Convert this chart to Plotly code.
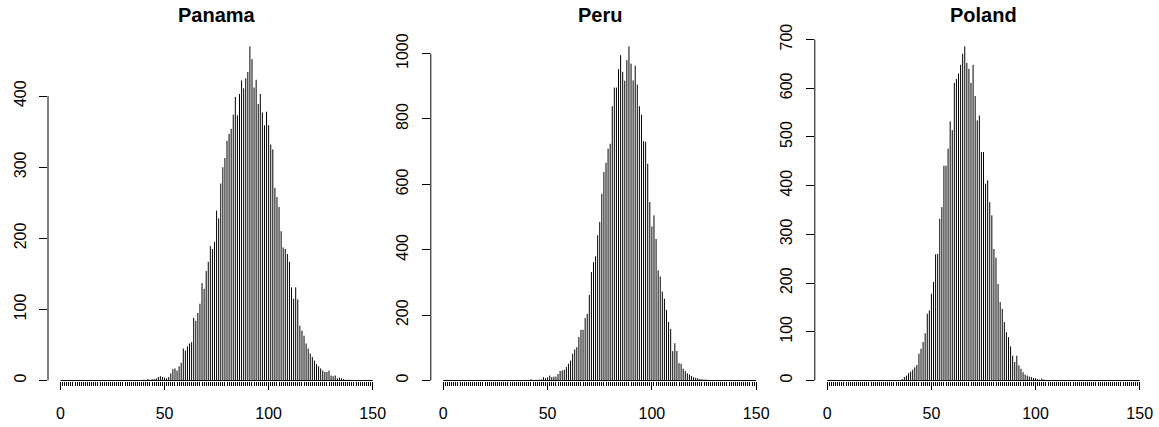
import plotly.graph_objects as go

# counts per value (0..150); values outside the listed span are zero
values = list(range(0, 151))

panama_start = 40
panama_counts = [1, 1, 2, 1, 2, 2, 3, 5, 6, 5, 4, 3, 5, 10, 16, 17, 14, 20, 25, 45,
                 42, 48, 52, 54, 88, 84, 95, 108, 137, 129, 154, 167, 189, 185, 195, 239, 228, 277, 300, 313,
                 337, 347, 354, 374, 399, 373, 403, 422, 411, 425, 434, 470, 452, 412, 423, 389, 403, 377, 359, 378,
                 359, 332, 325, 271, 258, 244, 210, 187, 185, 178, 167, 131, 115, 131, 114, 77, 70, 63, 52, 45,
                 38, 33, 28, 23, 20, 17, 14, 12, 12, 14, 7, 6, 7, 3, 4, 3, 2, 1, 1, 1]

peru_start = 40
peru_counts = [1, 1, 4, 1, 2, 2, 3, 3, 10, 7, 10, 15, 10, 12, 12, 20, 29, 31, 33, 41,
               51, 61, 82, 95, 102, 133, 155, 155, 191, 204, 262, 332, 362, 380, 444, 485, 571, 638, 666, 709,
               724, 839, 896, 896, 952, 995, 944, 917, 980, 1022, 969, 918, 963, 905, 839, 813, 732, 730, 663, 546,
               471, 505, 433, 337, 318, 272, 250, 216, 179, 158, 90, 114, 90, 53, 51, 36, 29, 22, 18, 14,
               10, 8, 7, 5, 4, 3, 3, 2, 1, 1, 1]

poland_start = 33
poland_counts = [1, 1, 1, 3, 7, 10, 15, 18, 22, 27, 32, 55, 65, 79, 97, 137, 144, 178, 202, 259,
                 260, 332, 356, 441, 441, 476, 532, 514, 611, 619, 630, 648, 671, 686, 652, 640, 611, 648, 584, 534,
                 544, 469, 469, 404, 411, 366, 339, 270, 252, 198, 161, 147, 120, 99, 89, 70, 51, 38, 51, 31,
                 24, 17, 12, 10, 8, 7, 5, 5, 3, 2, 4, 2, 1, 1]

titles = ["Panama", "Peru", "Poland"]
x_ticks = [0, 50, 100, 150]
panama_yticks = [0, 100, 200, 300, 400]
peru_yticks = [0, 200, 400, 600, 800, 1000]
poland_yticks = [0, 100, 200, 300, 400, 500, 600, 700]


def full_series(start, counts):
    out = [0] * len(values)
    for i, c in enumerate(counts):
        out[start + i] = c
    return out


series = [full_series(panama_start, panama_counts),
          full_series(peru_start, peru_counts),
          full_series(poland_start, poland_counts)]
yticks = [panama_yticks, peru_yticks, poland_yticks]

W, H = 1159, 427


def px_x(p):
    return p / W


def px_y(p):
    return (H - p) / H


x_domains = [[px_x(48.0), px_x(385.2)], [px_x(430.8), px_x(768.7)], [px_x(814.8), px_x(1152.2)]]
y_domain = [px_y(380.5), px_y(33)]

FONT = "Liberation Sans, Arial, Helvetica, sans-serif"

fig = go.Figure()
layout = dict(
    width=W, height=H,
    margin=dict(l=0, r=0, t=0, b=0, pad=0),
    plot_bgcolor="white", paper_bgcolor="white",
    showlegend=False,
    font=dict(family=FONT, size=16, color="black"),
)

for k in range(3):
    sfx = "" if k == 0 else str(k + 1)
    counts = series[k]
    # type="h" style: one vertical line per value, drawn up from zero
    xs, ys = [], []
    for v, c in zip(values, counts):
        if c > 0:
            xs += [v, v, None]
            ys += [0, c, None]
    fig.add_trace(go.Scatter(x=xs, y=ys, mode="lines",
                             line=dict(color="black", width=1),
                             xaxis="x" + sfx, yaxis="y" + sfx,
                             hoverinfo="skip"))

    top = max(counts) * 1.04
    layout["xaxis" + sfx] = dict(
        domain=x_domains[k], range=[-6, 156], anchor="y" + sfx,
        automargin=False,
        showgrid=False, zeroline=False, showline=False,
        tickmode="array", tickvals=x_ticks, ticktext=[str(t) for t in x_ticks],
        ticks="outside", ticklen=8, tickwidth=1, tickcolor="black",
        ticklabelstandoff=10,
        minor=dict(tickmode="array", tickvals=values, ticks="outside",
                   ticklen=4, tickwidth=1, tickcolor="black", showgrid=False),
        tickfont=dict(family=FONT, size=16, color="black"),
    )
    layout["yaxis" + sfx] = dict(
        domain=y_domain, range=[0, top], anchor="x" + sfx,
        automargin=False,
        showgrid=False, zeroline=False, showline=False,
        tickmode="array", tickvals=yticks[k], ticktext=[str(t) for t in yticks[k]],
        ticks="outside", ticklen=8, tickwidth=1, tickcolor="black",
        tickangle=-90, ticklabelstandoff=7,
        tickfont=dict(family=FONT, size=16, color="black"),
    )
    # R-style axis lines spanning only first to last tick
    fig.add_shape(type="line", xref="x" + sfx, yref="y" + sfx + " domain",
                  x0=x_ticks[0], x1=x_ticks[-1], y0=0, y1=0,
                  line=dict(color="black", width=1))
    fig.add_shape(type="line", xref="x" + sfx + " domain", yref="y" + sfx,
                  x0=0, x1=0, y0=yticks[k][0], y1=yticks[k][-1],
                  line=dict(color="black", width=1))
    fig.add_annotation(text=titles[k], xref="paper", yref="paper",
                       x=sum(x_domains[k]) / 2, y=px_y(15),
                       xanchor="center", yanchor="middle", showarrow=False,
                       font=dict(family=FONT, size=20, color="black", weight="bold"))

fig.update_layout(**layout)
# drop the default page margin so the figure fills the window from its corner
fig.write_html("out.html", config={"displayModeBar": False},
               post_script="document.body.style.margin='0';document.body.style.overflow='hidden';")
